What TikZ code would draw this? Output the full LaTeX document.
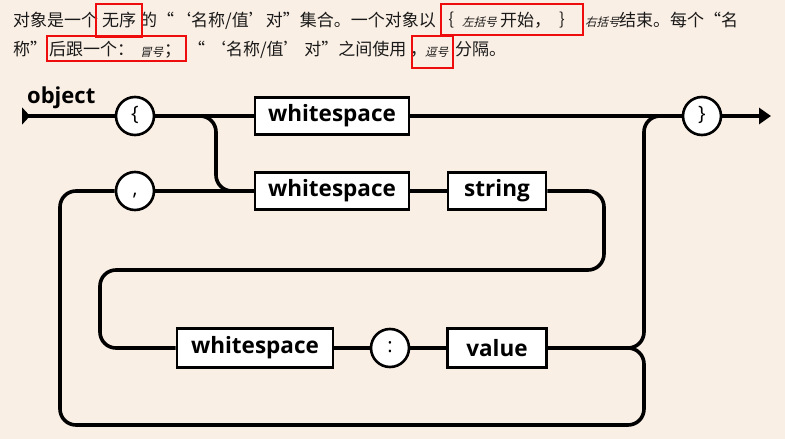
\documentclass[tikz,border=0pt]{standalone}
\usepackage{fontspec}
\setmainfont{Open Sans}
\newfontfamily\cjk{Noto Sans CJK SC}
\newfontfamily\cjknote[FakeSlant=0.25]{Noto Sans CJK SC}
\usetikzlibrary{arrows.meta}
\definecolor{paper}{RGB}{250,239,228}
\definecolor{boxred}{RGB}{238,12,12}

\begin{document}
\begin{tikzpicture}[x=1pt, y=-1pt,
    box/.style={draw, line width=2.8pt, fill=white, inner sep=0pt, minimum height=37pt, font=\bfseries\fontsize{22.5}{22.5}\selectfont},
    sym/.style={circle, draw, line width=2.6pt, fill=white, inner sep=0pt, minimum size=38pt, text height=14pt, text depth=6pt, font=\fontsize{20}{20}\selectfont},
    conn/.style={line width=3.6pt, rounded corners=16pt},
    hdr/.style={anchor=west, inner sep=0pt, text height=13pt, text depth=3pt, text=black!90, font=\cjk\fontsize{17}{17}\selectfont},
    note/.style={hdr, font=\cjknote\fontsize{11.5}{11.5}\selectfont},
    redbox/.style={draw=boxred, line width=2.6pt}]

    \fill[paper] (0,0) rectangle (785,439);
    \useasboundingbox (0,0) rectangle (785,439);

    % header text
    \node[hdr] (h1) at (13,21) {对象是一个};
    \node[hdr] (h2) at (102,21) {无序};
    \node[hdr] (h3) at (140,21) {的“‘名称/值’对”集合。一个对象以};
    \node[hdr] (h4) at (437,21) {｛};
    \node[note] (h5) at (462,22) {左括号};
    \node[hdr] (h6) at (500,21) {开始，};
    \node[hdr] (h7) at (559,21) {｝};
    \node[note] (h8) at (585,22) {右括号};
    \node[hdr] (h9) at (619,21) {结束。每个“名};
    \node[hdr] (k1) at (13,50) {称”};
    \node[hdr] (k2) at (49,50) {后跟一个：};
    \node[note] (k3) at (140,51) {冒号};
    \node[hdr] (k4) at (164,50) {；};
    \node[hdr] (k5) at (188,50) {“ ‘名称/值’ 对”之间使用};
    \node[hdr] (k6) at (410,50) {，};
    \node[note] (k7) at (425,51) {逗号};
    \node[hdr] (k8) at (455,50) {分隔。};

    \draw[redbox] (96,4) rectangle (142,37);
    \draw[redbox] (47,36) rectangle (186,61);
    \draw[redbox] (441,4) rectangle (583,35);
    \draw[redbox] (412,36) rectangle (453,68);

    % diagram
    \node[anchor=base west, inner sep=0pt, font=\bfseries\fontsize{22}{22}\selectfont] (obj) at (27,103) {object};
    \coordinate (st) at (22,116);
    \coordinate (fin) at (771,116);
    \node[sym] (lb) at (135,116) {\{};
    \node[box, minimum width=154pt] (ws1) at (332,116) {whitespace};
    \node[sym] (rb) at (702,116) {\}};
    \node[sym] (cm) at (135,191) {,};
    \node[box, minimum width=154pt] (ws2) at (332,191) {whitespace};
    \node[box, minimum width=98pt] (str) at (497,191) {string};
    \node[box, minimum width=156pt, minimum height=39pt] (ws3) at (255,348) {whitespace};
    \node[sym] (col) at (390,348) {:};
    \node[box, minimum width=99pt, minimum height=39pt] (val) at (497,348) {value};
    \coordinate (b1) at (216,116);
    \coordinate (c2) at (604,270);
    \coordinate (c3) at (100,348);
    \coordinate (d1) at (644,116);
    \coordinate (d2) at (644,425);
    \coordinate (d3) at (60,191);

    \draw[conn, {Triangle[reversed, length=8pt, width=17pt]}-] (st) -- (lb);
    \draw[conn] (lb) -- (ws1);
    \draw[conn] (ws1) -- (rb);
    \draw[conn, -{Triangle[length=12pt, width=16pt]}] (rb) -- (fin);
    \draw[conn] (lb.east) -- (b1) |- (ws2.west);
    \draw[conn] (cm) -- (ws2);
    \draw[conn] (ws2) -- (str);
    \draw[conn] (str.east) -| (c2) -| (c3) -- (ws3.west);
    \draw[conn] (ws3) -- (col) -- (val);
    \draw[conn] (val.east) -| (d1) -- (rb.west);
    \draw[conn] (val.east) -| (d2) -| (d3) -- (cm.west);
\end{tikzpicture}
\end{document}
